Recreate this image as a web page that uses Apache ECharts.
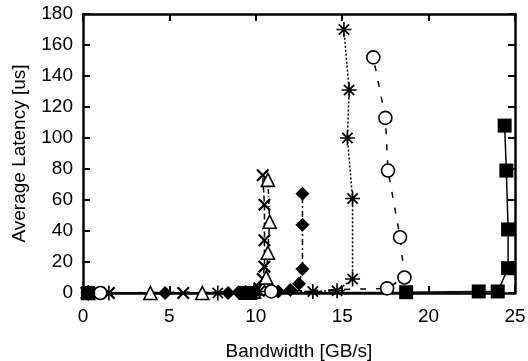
<!DOCTYPE html>
<html>
<head>
<meta charset="utf-8">
<script src="https://cdn.jsdelivr.net/npm/echarts@6/dist/echarts.min.js"></script>
<style>
  html, body { margin: 0; padding: 0; background: #fff; }
  #chart { width: 528px; height: 361px; }
</style>
</head>
<body>
<div id="chart"></div>
<script>
// bandwidth [GB/s], latency [us] pairs per curve
const crossPts = [[0.2, 0], [1.5, 0], [5.8, 0], [9.7, 1], [10.2, 3], [10.4, 9], [10.5, 17], [10.5, 34], [10.5, 57], [10.4, 76]];
const trianglePts = [[0.3, 0], [3.9, 0], [6.9, 0], [9.9, 1], [10.4, 3], [10.6, 10], [10.7, 26], [10.8, 46], [10.7, 73]];
const diamondPts = [[0.3, 0], [4.75, 0], [8.4, 0], [9.0, 0.5], [11.3, 1], [12.0, 2], [12.5, 6], [12.7, 15.5], [12.7, 44], [12.7, 64]];
const asteriskPts = [[0.3, 0], [1.5, 0], [7.8, 0], [10.2, 1], [13.3, 1], [14.7, 1.5], [15.6, 9], [15.6, 61], [15.3, 100], [15.4, 131], [15.1, 170]];
const circlePts = [[0.3, 0], [1.0, 0], [10.9, 1], [17.6, 3], [18.6, 10], [18.35, 36], [17.65, 79], [17.5, 113], [16.8, 152]];
const squarePts = [[0.3, 0], [9.4, 0], [9.7, 0], [18.7, 0.5], [22.9, 1], [24.0, 1], [24.6, 16], [24.6, 41], [24.5, 79], [24.4, 108]];

const X_PATH = 'path://M0,1.2 L1.2,0 L5,3.8 L8.8,0 L10,1.2 L6.2,5 L10,8.8 L8.8,10 L5,6.2 L1.2,10 L0,8.8 L3.8,5 Z';
const STAR_PATH = 'path://M0,1.1 L1.1,0 L5,3.9 L8.9,0 L10,1.1 L6.1,5 L10,8.9 L8.9,10 L5,6.1 L1.1,10 L0,8.9 L3.9,5 Z ' +
  'M4.3,-1.5 L5.7,-1.5 L5.7,11.5 L4.3,11.5 Z M-1.5,4.3 L11.5,4.3 L11.5,5.7 L-1.5,5.7 Z';

const FONT = 'Liberation Sans, Arial, sans-serif';
const mk = (data, symbol, size, type, fill) => ({
  type: 'line', data, symbol, symbolSize: size,
  lineStyle: { color: '#000', width: 1.5, type },
  itemStyle: { color: fill, borderColor: '#000', borderWidth: fill === '#fff' ? 1.6 : 0 },
  z: 3, animation: false,
});

const AXLINE = { show: true, onZero: false, lineStyle: { color: '#000', width: 2.5 } };
const TICK = { show: true, inside: true, length: 7, lineStyle: { color: '#000', width: 2 } };
const mirror = (extra) => ({
  min: 0, ...extra,
  axisLine: AXLINE, axisTick: TICK,
  axisLabel: { show: false }, splitLine: { show: false },
});

const chart = echarts.init(document.getElementById('chart'), null, { renderer: 'canvas' });
chart.setOption({
  backgroundColor: '#fff',
  animation: false,
  grid: { left: 83, right: 13, top: 14, bottom: 68, outerBoundsMode: 'none', containLabel: false },
  xAxis: [{
    type: 'value', min: 0, max: 25, interval: 5,
    name: 'Bandwidth [GB/s]', nameLocation: 'middle', nameGap: 49,
    nameTextStyle: { fontFamily: FONT, fontSize: 19, color: '#000' },
    axisLine: AXLINE, axisTick: TICK,
    axisLabel: { fontFamily: FONT, fontSize: 19, color: '#000', margin: 14 },
    splitLine: { show: false },
  }, mirror({ type: 'value', max: 25, interval: 5, position: 'top' })],
  yAxis: [{
    type: 'value', min: 0, max: 180, interval: 20,
    name: 'Average Latency [us]', nameLocation: 'middle', nameGap: 54,
    nameTextStyle: { fontFamily: FONT, fontSize: 19, color: '#000' },
    axisLine: AXLINE, axisTick: TICK,
    axisLabel: { fontFamily: FONT, fontSize: 19, color: '#000', margin: 10 },
    splitLine: { show: false },
  }, mirror({ type: 'value', max: 180, interval: 20, position: 'right' })],
  series: [
    mk(crossPts, X_PATH, 13, [6, 3], '#000'),
    mk(trianglePts, 'triangle', 13, [5, 2, 1, 2], '#fff'),
    mk(diamondPts, 'diamond', 14, [6, 3, 2, 3], '#000'),
    mk(asteriskPts, STAR_PATH, 15, [2, 2], '#000'),
    mk(circlePts, 'circle', 13, [6, 10], '#fff'),
    mk(squarePts, 'rect', 14, 'solid', '#000'),
  ],
});
</script>
</body>
</html>
